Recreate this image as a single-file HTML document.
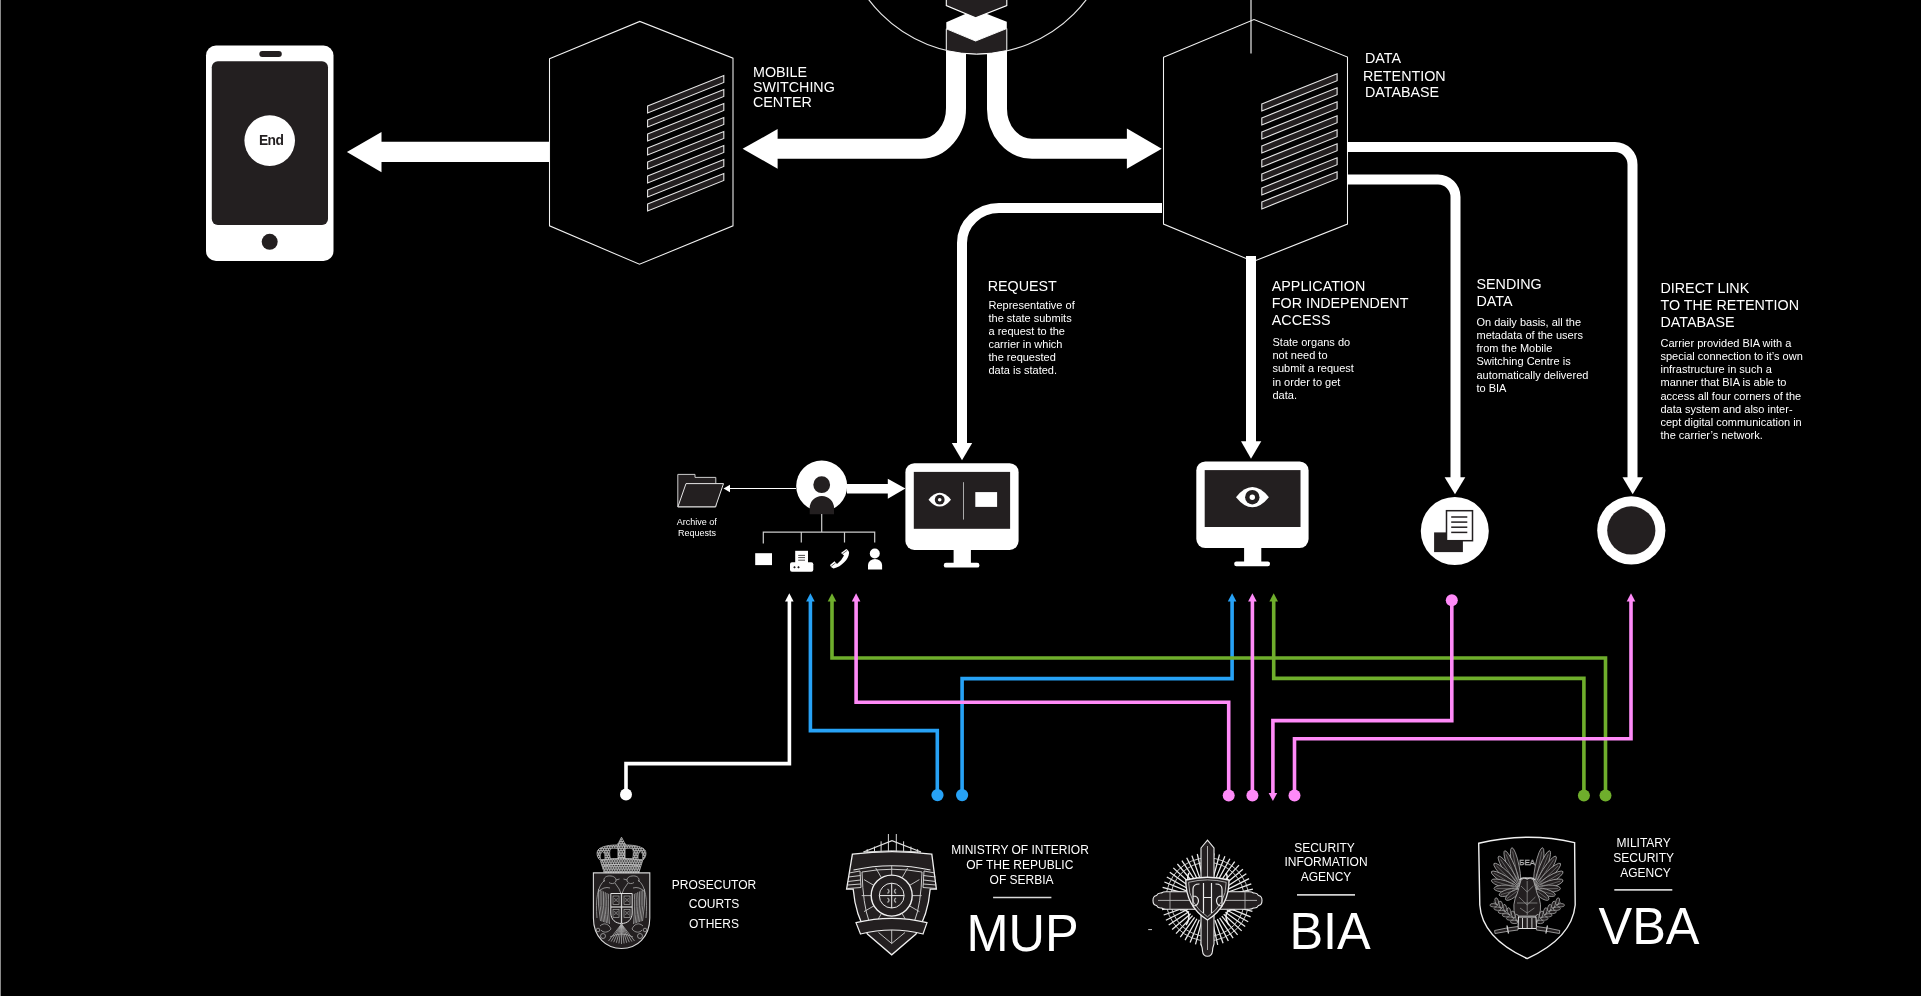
<!DOCTYPE html>
<html><head><meta charset="utf-8">
<style>
html,body{margin:0;padding:0;background:#000;width:1921px;height:996px;overflow:hidden}
svg{position:absolute;left:0;top:0;display:block;will-change:transform}
text{font-family:"Liberation Sans",sans-serif;fill:#fff}
</style></head>
<body>
<svg width="1921" height="996" viewBox="0 0 1921 996">
<rect x="0" y="0" width="1921" height="996" fill="#000"/>
<rect x="0" y="0" width="1" height="996" fill="#8a8a8a"/>

<!-- PHONE -->
<g id="phone">
<rect x="206" y="45.5" width="127.5" height="215.5" rx="10" fill="#fff"/>
<rect x="211.8" y="61.3" width="116.2" height="163.7" rx="6" fill="#231f20"/>
<rect x="259.3" y="51" width="22.5" height="6" rx="3" fill="#231f20"/>
<circle cx="269.7" cy="241.8" r="8" fill="#231f20"/>
<circle cx="269.7" cy="140.6" r="25.3" fill="#fff"/>
<text x="271.1" y="145.2" text-anchor="middle" style="fill:#231f20;font-weight:bold;font-size:13.8px;letter-spacing:-0.6px">End</text>
</g>
<polygon points="346.9,152 381.5,132 381.5,141.8 549,141.8 549,161.9 381.5,161.9 381.5,172.2" fill="#fff"/>

<!-- MSC HEX -->
<g id="hex1">
<polygon points="549.5,58.8 639.8,21.4 733,58.2 733,225.8 639.5,264.3 549.5,225.8" fill="none" stroke="#f2f2f2" stroke-width="1.05"/>
<g id="slats1" fill="#231f20" stroke="#e6e6e6" stroke-width="1.1"><polygon points="647.6,106.0 723.8,75.5 723.8,82.5 647.6,113.0"/><polygon points="647.6,120.0 723.8,89.5 723.8,96.5 647.6,127.0"/><polygon points="647.6,134.0 723.8,103.5 723.8,110.5 647.6,141.0"/><polygon points="647.6,148.0 723.8,117.5 723.8,124.5 647.6,155.0"/><polygon points="647.6,162.0 723.8,131.5 723.8,138.5 647.6,169.0"/><polygon points="647.6,176.0 723.8,145.5 723.8,152.5 647.6,183.0"/><polygon points="647.6,190.0 723.8,159.5 723.8,166.5 647.6,197.0"/><polygon points="647.6,204.0 723.8,173.5 723.8,180.5 647.6,211.0"/></g>
</g>
<text style="font-size:14.3px"><tspan x="753" y="77.3">MOBILE</tspan><tspan x="753" y="92">SWITCHING</tspan><tspan x="753" y="106.9">CENTER</tspan></text>

<!-- TOP CENTER -->
<circle cx="977.5" cy="-82" r="136" fill="none" stroke="#e6e6e6" stroke-width="1.2"/>
<path d="M956,50 V108 A35,40 0 0 1 921,148.7 H777" fill="none" stroke="#fff" stroke-width="20"/>
<path d="M997,50 V108 A35,40 0 0 0 1032,148.7 H1127" fill="none" stroke="#fff" stroke-width="20"/>
<polygon points="742.6,148.8 777.6,129.1 777.6,168.7" fill="#fff"/>
<polygon points="1161.7,148.8 1126.9,128.5 1126.9,168.7" fill="#fff"/>
<g id="server">
<polygon points="946.3,22.2 975.6,9.6 1006.8,21.7 1006.8,28.5 975.6,41.2 946.3,28.8" fill="#fff"/>
<polygon points="946.3,-5 1006.8,-5 1006.8,5.6 975.6,17.8 946.3,5.6" fill="#231f20" stroke="#fff" stroke-width="1.1"/>
<path d="M946.3,28.8 L975.6,41 L1006.8,28.5 V50.6 A136,136 0 0 1 946.3,50.6 Z" fill="#231f20" stroke="#fff" stroke-width="1"/>
</g>

<!-- RETENTION HEX -->
<g id="hex2">
<line x1="1251" y1="0" x2="1251" y2="53.4" stroke="#bbb" stroke-width="1.5"/>
<polygon points="1163.5,57.3 1254,19.6 1347.5,57 1347.5,224.1 1253.3,261.5 1163.5,224.1" fill="none" stroke="#f2f2f2" stroke-width="1.05"/>
<g id="slats2" fill="#231f20" stroke="#e6e6e6" stroke-width="1.1"><polygon points="1261.8,103.9 1337.1,73.7 1337.1,80.7 1261.8,110.9"/><polygon points="1261.8,117.9 1337.1,87.7 1337.1,94.7 1261.8,124.9"/><polygon points="1261.8,131.9 1337.1,101.7 1337.1,108.7 1261.8,138.9"/><polygon points="1261.8,145.9 1337.1,115.7 1337.1,122.7 1261.8,152.9"/><polygon points="1261.8,159.9 1337.1,129.7 1337.1,136.7 1261.8,166.9"/><polygon points="1261.8,173.9 1337.1,143.7 1337.1,150.7 1261.8,180.9"/><polygon points="1261.8,187.9 1337.1,157.7 1337.1,164.7 1261.8,194.9"/><polygon points="1261.8,201.9 1337.1,171.7 1337.1,178.7 1261.8,208.9"/></g>
</g>
<text style="font-size:14.3px"><tspan x="1365" y="63">DATA</tspan><tspan x="1363" y="80.9">RETENTION</tspan><tspan x="1365" y="96.8">DATABASE</tspan></text>

<!-- PIPES FROM RETENTION -->
<path d="M1347,147 H1615 A17.5,17.5 0 0 1 1632.5,164.5 V478" fill="none" stroke="#fff" stroke-width="10"/>
<polygon points="1622.5,477.2 1643,477.2 1632.7,494.3" fill="#fff"/>
<path d="M1347,179.5 H1438 A17.5,17.5 0 0 1 1455.5,197 V478" fill="none" stroke="#fff" stroke-width="10"/>
<polygon points="1444.6,477.2 1465.3,477.2 1455,494.3" fill="#fff"/>
<path d="M1162,208 H999 A37,35 0 0 0 962,243 V444" fill="none" stroke="#fff" stroke-width="10"/>
<polygon points="951.8,443 972.2,443 962,460.2" fill="#fff"/>
<path d="M1251,256 V442" fill="none" stroke="#fff" stroke-width="10"/>
<polygon points="1241,441.2 1261.3,441.2 1251,458.7" fill="#fff"/>

<!-- LABELS -->
<text style="font-size:14.3px"><tspan x="987.7" y="291.1">REQUEST</tspan></text>
<text style="font-size:11px"><tspan x="988.5" y="308.8">Representative of</tspan><tspan x="988.5" y="321.9">the state submits</tspan><tspan x="988.5" y="335">a request to the</tspan><tspan x="988.5" y="348.1">carrier in which</tspan><tspan x="988.5" y="361.2">the requested</tspan><tspan x="988.5" y="374.3">data is stated.</tspan></text>

<text style="font-size:14.3px"><tspan x="1271.8" y="291.1">APPLICATION</tspan><tspan x="1271.8" y="307.9">FOR INDEPENDENT</tspan><tspan x="1271.8" y="324.5">ACCESS</tspan></text>
<text style="font-size:11px"><tspan x="1272.5" y="345.9">State organs do</tspan><tspan x="1272.5" y="359.1">not need to</tspan><tspan x="1272.5" y="372.3">submit a request</tspan><tspan x="1272.5" y="385.5">in order to get</tspan><tspan x="1272.5" y="398.7">data.</tspan></text>

<text style="font-size:14.3px"><tspan x="1476.5" y="288.7">SENDING</tspan><tspan x="1476.5" y="305.8">DATA</tspan></text>
<text style="font-size:11px"><tspan x="1476.5" y="325.5">On daily basis, all the</tspan><tspan x="1476.5" y="338.8">metadata of the users</tspan><tspan x="1476.5" y="352.1">from the Mobile</tspan><tspan x="1476.5" y="365.4">Switching Centre is</tspan><tspan x="1476.5" y="378.7">automatically delivered</tspan><tspan x="1476.5" y="392">to BIA</tspan></text>

<text style="font-size:14.3px"><tspan x="1660.5" y="292.9">DIRECT LINK</tspan><tspan x="1660.5" y="309.7">TO THE RETENTION</tspan><tspan x="1660.5" y="326.9">DATABASE</tspan></text>
<text style="font-size:11px"><tspan x="1660.5" y="346.8">Carrier provided BIA with a</tspan><tspan x="1660.5" y="360">special connection to it’s own</tspan><tspan x="1660.5" y="373.2">infrastructure in such a</tspan><tspan x="1660.5" y="386.4">manner that BIA is able to</tspan><tspan x="1660.5" y="399.6">access all four corners of the</tspan><tspan x="1660.5" y="412.8">data system and also inter-</tspan><tspan x="1660.5" y="426">cept digital communication in</tspan><tspan x="1660.5" y="439.2">the carrier’s network.</tspan></text>

<!-- MONITORS -->
<g id="mon1">
<rect x="905.4" y="463.2" width="113.2" height="86.8" rx="9" fill="#fff"/>
<rect x="913.8" y="471.9" width="96.3" height="56.9" fill="#231f20"/>
<rect x="953.6" y="548" width="17.3" height="16" fill="#fff"/>
<rect x="943.8" y="562.8" width="35.6" height="4.8" rx="2.2" fill="#fff"/>
<path d="M928.5,499.7 Q939.7,486 951,499.7 Q939.7,513.4 928.5,499.7 Z" fill="#fff"/>
<circle cx="939.7" cy="499.7" r="4.9" fill="#231f20"/>
<circle cx="939.7" cy="499.7" r="1.8" fill="#fff"/>
<line x1="963.5" y1="482.2" x2="963.5" y2="519.6" stroke="#aaa" stroke-width="1"/>
<rect x="975.3" y="492.1" width="21.8" height="14.8" fill="#fff"/>
</g>
<g id="mon2">
<rect x="1196.3" y="461.4" width="112.3" height="86.7" rx="9" fill="#fff"/>
<rect x="1204.7" y="470.1" width="95.8" height="56.9" fill="#231f20"/>
<rect x="1244.1" y="546" width="17.2" height="17" fill="#fff"/>
<rect x="1234.2" y="561.4" width="35.8" height="4.8" rx="2.2" fill="#fff"/>
<path d="M1236,497.2 Q1252.3,477 1268.9,497.2 Q1252.3,517.4 1236,497.2 Z" fill="#fff"/>
<circle cx="1252.3" cy="497.2" r="7.2" fill="#231f20"/>
<circle cx="1252.3" cy="497.2" r="2.7" fill="#fff"/>
</g>

<!-- DOC CIRCLE -->
<circle cx="1454.8" cy="531" r="34" fill="#fff"/>
<rect x="1434.1" y="532.4" width="28.8" height="19.7" fill="#231f20"/>
<rect x="1446.5" y="510.7" width="26" height="30" fill="#fff" stroke="#231f20" stroke-width="1.5"/>
<g stroke="#231f20" stroke-width="1.5"><line x1="1451.2" y1="517" x2="1467.3" y2="517"/><line x1="1451.2" y1="522.1" x2="1467.3" y2="522.1"/><line x1="1451.2" y1="527.2" x2="1467.3" y2="527.2"/><line x1="1451.2" y1="532.4" x2="1467.3" y2="532.4"/></g>

<!-- RING -->
<circle cx="1631.3" cy="530.4" r="34.1" fill="#fff"/>
<circle cx="1631.3" cy="530.4" r="24.1" fill="#231f20"/>

<!-- PERSON + ARCHIVE -->
<circle cx="821.7" cy="486" r="25.5" fill="#fff"/>
<circle cx="821.7" cy="484.7" r="8.4" fill="#231f20"/>
<path d="M809.7,514.2 V508 A12.15,12 0 0 1 834,508 V514.2 Z" fill="#231f20"/>
<polygon points="847,483.9 887.8,483.9 887.8,478.7 905.4,488.5 887.8,498.8 887.8,493.4 847,493.4" fill="#fff"/>
<line x1="796" y1="488.5" x2="729" y2="488.5" stroke="#fff" stroke-width="1.2"/>
<polygon points="723.5,488.5 730,484.8 730,492.2" fill="#fff"/>
<path d="M677.8,506.8 V474.4 H695 V477.4 H715.8 V506.8 Z" fill="#231f20" stroke="#ccc" stroke-width="1"/>
<polygon points="686,483.6 723.5,483.6 715.5,506.8 677.9,506.8" fill="#231f20" stroke="#e6e6e6" stroke-width="1"/>
<text style="font-size:9px" text-anchor="middle"><tspan x="696.8" y="524.8">Archive of</tspan><tspan x="697" y="535.9">Requests</tspan></text>
<g stroke="#ccc" stroke-width="1.2" fill="none">
<path d="M821.7,514 V532.1"/>
<path d="M763.3,543.5 V532.1 H874.7 V542.5"/>
<path d="M801.3,532.1 V542.5"/>
<path d="M844.5,532.1 V542.5"/>
</g>
<rect x="755.2" y="553.2" width="16.8" height="11.9" fill="#fff"/>
<g id="fax">
<rect x="795.2" y="550.8" width="12.8" height="13" fill="#fff"/>
<g stroke="#231f20" stroke-width="0.8"><line x1="798.2" y1="555.4" x2="805" y2="555.4"/><line x1="798.2" y1="557.6" x2="805" y2="557.6"/><line x1="798.2" y1="560.2" x2="805" y2="560.2"/></g>
<rect x="790" y="562.3" width="23.3" height="9.4" rx="2" fill="#fff"/>
<g fill="#231f20"><polygon points="794.5,566 795.8,567.2 794.5,568.4 793.2,567.2"/><polygon points="798.5,566 799.8,567.2 798.5,568.4 797.2,567.2"/></g>
</g>
<path d="M830,565 L834.5,561.2 L837,563.9 Q841.5,561 844,555.6 L841,552.9 L846.3,549 Q849.6,551 849,553.5 C848.5,559 842,566.5 833.5,568.6 Q830.8,568 830,565 Z" fill="#fff"/><g stroke="#231f20" stroke-width="0.7"><line x1="842.3" y1="554" x2="847.3" y2="550.3"/><line x1="831.2" y1="566.3" x2="835.8" y2="562.7"/></g>
<circle cx="874.8" cy="553.5" r="5" fill="#fff"/>
<path d="M868,569.6 V565 A7.05,6 0 0 1 882.1,565 V569.6 Z" fill="#fff"/>

<!-- COLORED LINES -->
<g fill="none" stroke-width="3.6" stroke-linejoin="miter">
<path stroke="#fff" d="M626,794.5 V763.6 H789.4 V600"/>
<path stroke="#27a2f6" d="M810.4,600 V730.6 H937.3 V795"/>
<path stroke="#27a2f6" d="M962.1,795 V678.6 H1232.1 V600"/>
<path stroke="#6fae2c" d="M832,600 V658 H1605.5 V795"/>
<path stroke="#6fae2c" d="M1273.7,600 V678.4 H1583.9 V795"/>
<path stroke="#ff8af8" d="M856.1,600 V702.2 H1228.7 V795"/>
<path stroke="#ff8af8" d="M1252.4,600 V795"/>
<path stroke="#ff8af8" d="M1451.8,600 V720.6 H1272.9 V794"/>
<path stroke="#ff8af8" d="M1631,600 V738.8 H1294.5 V795"/>
</g>
<g>
<circle cx="626" cy="794.5" r="6" fill="#fff"/>
<polygon points="785,601.5 793.6,601.5 789.3,593.3" fill="#fff"/>
<circle cx="937.5" cy="795.1" r="6.1" fill="#27a2f6"/>
<circle cx="962.1" cy="795.1" r="6.1" fill="#27a2f6"/>
<polygon points="806.1,601.5 814.7,601.5 810.4,593.3" fill="#27a2f6"/>
<polygon points="1227.8,601.5 1236.4,601.5 1232.1,593.3" fill="#27a2f6"/>
<polygon points="827.7,601.5 836.3,601.5 832,593.3" fill="#6fae2c"/>
<polygon points="1269.4,601.5 1278,601.5 1273.7,593.3" fill="#6fae2c"/>
<circle cx="1583.9" cy="795.6" r="6" fill="#6fae2c"/>
<circle cx="1605.5" cy="795.6" r="6" fill="#6fae2c"/>
<polygon points="851.8,601.5 860.4,601.5 856.1,593.3" fill="#ff8af8"/>
<polygon points="1248.1,601.5 1256.7,601.5 1252.4,593.3" fill="#ff8af8"/>
<polygon points="1626.7,601.5 1635.3,601.5 1631,593.3" fill="#ff8af8"/>
<polygon points="1268.6,793 1277.2,793 1272.9,801" fill="#ff8af8"/>
<circle cx="1228.7" cy="795.5" r="6" fill="#ff8af8"/>
<circle cx="1252.4" cy="795.5" r="6" fill="#ff8af8"/>
<circle cx="1294.5" cy="795.5" r="6" fill="#ff8af8"/>
<circle cx="1451.8" cy="600.2" r="6" fill="#ff8af8"/>
</g>

<!-- BOTTOM TEXTS -->
<text style="font-size:12px" text-anchor="middle"><tspan x="714" y="888.6">PROSECUTOR</tspan><tspan x="714" y="908">COURTS</tspan><tspan x="714" y="927.5">OTHERS</tspan></text>

<text style="font-size:12px" text-anchor="middle"><tspan x="1020.1" y="853.9">MINISTRY OF INTERIOR</tspan><tspan x="1019.8" y="868.7">OF THE REPUBLIC</tspan><tspan x="1021.6" y="883.5">OF SERBIA</tspan></text>
<line x1="993.1" y1="897.5" x2="1051.4" y2="897.5" stroke="#d8d8d8" stroke-width="1.7"/>
<text transform="translate(1022.6,950.9) scale(0.96,1)" text-anchor="middle" style="font-size:52.6px">MUP</text>

<text style="font-size:12px" text-anchor="middle"><tspan x="1324.5" y="851.6">SECURITY</tspan><tspan x="1326" y="866">INFORMATION</tspan><tspan x="1326" y="880.5">AGENCY</tspan></text>
<line x1="1297" y1="894.8" x2="1355" y2="894.8" stroke="#d0d0d0" stroke-width="1.8"/>
<text transform="translate(1330.1,948.7) scale(0.96,1)" text-anchor="middle" style="font-size:52.6px">BIA</text>

<text style="font-size:12px" text-anchor="middle"><tspan x="1643.7" y="847.1">MILITARY</tspan><tspan x="1643.7" y="862">SECURITY</tspan><tspan x="1645.5" y="876.8">AGENCY</tspan></text>
<line x1="1614.3" y1="889.9" x2="1672.3" y2="889.9" stroke="#d0d0d0" stroke-width="1.8"/>
<text transform="translate(1649,943.8) scale(0.96,1)" text-anchor="middle" style="font-size:52.6px">VBA</text>

<!-- LOGOS -->
<g id="logo1"><defs><pattern id="crowndots" width="2" height="2" patternUnits="userSpaceOnUse"><rect width="2" height="2" fill="#b4b4b4"/><circle cx="1" cy="1" r="0.7" fill="#111"/></pattern></defs><path d="M604.2,872.8 L600.4,860.5 C596.5,857 596,851.5 599,849 C603,846 610,845 617,845 L618.6,842.8 L621.5,837.2 L624.4,842.8 L626,845 C633,845 640,846 644,849 C647,851.5 646.5,857 642.6,860.5 L638.8,872.8 Z" fill="#a6a6a6" stroke="#c8c8c8" stroke-width="0.8"/><defs><clipPath id="crownclip"><path d="M604.2,872.8 L600.4,860.5 C596.5,857 596,851.5 599,849 C603,846 610,845 617,845 L618.6,842.8 L621.5,837.2 L624.4,842.8 L626,845 C633,845 640,846 644,849 C647,851.5 646.5,857 642.6,860.5 L638.8,872.8 Z"/></clipPath></defs><g clip-path="url(#crownclip)" fill="#1c1c1c"><circle cx="596.00" cy="838.00" r="0.72"/><circle cx="598.50" cy="838.00" r="0.72"/><circle cx="601.00" cy="838.00" r="0.72"/><circle cx="603.50" cy="838.00" r="0.72"/><circle cx="606.00" cy="838.00" r="0.72"/><circle cx="608.50" cy="838.00" r="0.72"/><circle cx="611.00" cy="838.00" r="0.72"/><circle cx="613.50" cy="838.00" r="0.72"/><circle cx="616.00" cy="838.00" r="0.72"/><circle cx="618.50" cy="838.00" r="0.72"/><circle cx="621.00" cy="838.00" r="0.72"/><circle cx="623.50" cy="838.00" r="0.72"/><circle cx="626.00" cy="838.00" r="0.72"/><circle cx="628.50" cy="838.00" r="0.72"/><circle cx="631.00" cy="838.00" r="0.72"/><circle cx="633.50" cy="838.00" r="0.72"/><circle cx="636.00" cy="838.00" r="0.72"/><circle cx="638.50" cy="838.00" r="0.72"/><circle cx="641.00" cy="838.00" r="0.72"/><circle cx="643.50" cy="838.00" r="0.72"/><circle cx="646.00" cy="838.00" r="0.72"/><circle cx="597.25" cy="840.30" r="0.72"/><circle cx="599.75" cy="840.30" r="0.72"/><circle cx="602.25" cy="840.30" r="0.72"/><circle cx="604.75" cy="840.30" r="0.72"/><circle cx="607.25" cy="840.30" r="0.72"/><circle cx="609.75" cy="840.30" r="0.72"/><circle cx="612.25" cy="840.30" r="0.72"/><circle cx="614.75" cy="840.30" r="0.72"/><circle cx="617.25" cy="840.30" r="0.72"/><circle cx="619.75" cy="840.30" r="0.72"/><circle cx="622.25" cy="840.30" r="0.72"/><circle cx="624.75" cy="840.30" r="0.72"/><circle cx="627.25" cy="840.30" r="0.72"/><circle cx="629.75" cy="840.30" r="0.72"/><circle cx="632.25" cy="840.30" r="0.72"/><circle cx="634.75" cy="840.30" r="0.72"/><circle cx="637.25" cy="840.30" r="0.72"/><circle cx="639.75" cy="840.30" r="0.72"/><circle cx="642.25" cy="840.30" r="0.72"/><circle cx="644.75" cy="840.30" r="0.72"/><circle cx="647.25" cy="840.30" r="0.72"/><circle cx="596.00" cy="842.60" r="0.72"/><circle cx="598.50" cy="842.60" r="0.72"/><circle cx="601.00" cy="842.60" r="0.72"/><circle cx="603.50" cy="842.60" r="0.72"/><circle cx="606.00" cy="842.60" r="0.72"/><circle cx="608.50" cy="842.60" r="0.72"/><circle cx="611.00" cy="842.60" r="0.72"/><circle cx="613.50" cy="842.60" r="0.72"/><circle cx="616.00" cy="842.60" r="0.72"/><circle cx="618.50" cy="842.60" r="0.72"/><circle cx="621.00" cy="842.60" r="0.72"/><circle cx="623.50" cy="842.60" r="0.72"/><circle cx="626.00" cy="842.60" r="0.72"/><circle cx="628.50" cy="842.60" r="0.72"/><circle cx="631.00" cy="842.60" r="0.72"/><circle cx="633.50" cy="842.60" r="0.72"/><circle cx="636.00" cy="842.60" r="0.72"/><circle cx="638.50" cy="842.60" r="0.72"/><circle cx="641.00" cy="842.60" r="0.72"/><circle cx="643.50" cy="842.60" r="0.72"/><circle cx="646.00" cy="842.60" r="0.72"/><circle cx="597.25" cy="844.90" r="0.72"/><circle cx="599.75" cy="844.90" r="0.72"/><circle cx="602.25" cy="844.90" r="0.72"/><circle cx="604.75" cy="844.90" r="0.72"/><circle cx="607.25" cy="844.90" r="0.72"/><circle cx="609.75" cy="844.90" r="0.72"/><circle cx="612.25" cy="844.90" r="0.72"/><circle cx="614.75" cy="844.90" r="0.72"/><circle cx="617.25" cy="844.90" r="0.72"/><circle cx="619.75" cy="844.90" r="0.72"/><circle cx="622.25" cy="844.90" r="0.72"/><circle cx="624.75" cy="844.90" r="0.72"/><circle cx="627.25" cy="844.90" r="0.72"/><circle cx="629.75" cy="844.90" r="0.72"/><circle cx="632.25" cy="844.90" r="0.72"/><circle cx="634.75" cy="844.90" r="0.72"/><circle cx="637.25" cy="844.90" r="0.72"/><circle cx="639.75" cy="844.90" r="0.72"/><circle cx="642.25" cy="844.90" r="0.72"/><circle cx="644.75" cy="844.90" r="0.72"/><circle cx="647.25" cy="844.90" r="0.72"/><circle cx="596.00" cy="847.20" r="0.72"/><circle cx="598.50" cy="847.20" r="0.72"/><circle cx="601.00" cy="847.20" r="0.72"/><circle cx="603.50" cy="847.20" r="0.72"/><circle cx="606.00" cy="847.20" r="0.72"/><circle cx="608.50" cy="847.20" r="0.72"/><circle cx="611.00" cy="847.20" r="0.72"/><circle cx="613.50" cy="847.20" r="0.72"/><circle cx="616.00" cy="847.20" r="0.72"/><circle cx="618.50" cy="847.20" r="0.72"/><circle cx="621.00" cy="847.20" r="0.72"/><circle cx="623.50" cy="847.20" r="0.72"/><circle cx="626.00" cy="847.20" r="0.72"/><circle cx="628.50" cy="847.20" r="0.72"/><circle cx="631.00" cy="847.20" r="0.72"/><circle cx="633.50" cy="847.20" r="0.72"/><circle cx="636.00" cy="847.20" r="0.72"/><circle cx="638.50" cy="847.20" r="0.72"/><circle cx="641.00" cy="847.20" r="0.72"/><circle cx="643.50" cy="847.20" r="0.72"/><circle cx="646.00" cy="847.20" r="0.72"/><circle cx="597.25" cy="849.50" r="0.72"/><circle cx="599.75" cy="849.50" r="0.72"/><circle cx="602.25" cy="849.50" r="0.72"/><circle cx="604.75" cy="849.50" r="0.72"/><circle cx="607.25" cy="849.50" r="0.72"/><circle cx="609.75" cy="849.50" r="0.72"/><circle cx="612.25" cy="849.50" r="0.72"/><circle cx="614.75" cy="849.50" r="0.72"/><circle cx="617.25" cy="849.50" r="0.72"/><circle cx="619.75" cy="849.50" r="0.72"/><circle cx="622.25" cy="849.50" r="0.72"/><circle cx="624.75" cy="849.50" r="0.72"/><circle cx="627.25" cy="849.50" r="0.72"/><circle cx="629.75" cy="849.50" r="0.72"/><circle cx="632.25" cy="849.50" r="0.72"/><circle cx="634.75" cy="849.50" r="0.72"/><circle cx="637.25" cy="849.50" r="0.72"/><circle cx="639.75" cy="849.50" r="0.72"/><circle cx="642.25" cy="849.50" r="0.72"/><circle cx="644.75" cy="849.50" r="0.72"/><circle cx="647.25" cy="849.50" r="0.72"/><circle cx="596.00" cy="851.80" r="0.72"/><circle cx="598.50" cy="851.80" r="0.72"/><circle cx="601.00" cy="851.80" r="0.72"/><circle cx="603.50" cy="851.80" r="0.72"/><circle cx="606.00" cy="851.80" r="0.72"/><circle cx="608.50" cy="851.80" r="0.72"/><circle cx="611.00" cy="851.80" r="0.72"/><circle cx="613.50" cy="851.80" r="0.72"/><circle cx="616.00" cy="851.80" r="0.72"/><circle cx="618.50" cy="851.80" r="0.72"/><circle cx="621.00" cy="851.80" r="0.72"/><circle cx="623.50" cy="851.80" r="0.72"/><circle cx="626.00" cy="851.80" r="0.72"/><circle cx="628.50" cy="851.80" r="0.72"/><circle cx="631.00" cy="851.80" r="0.72"/><circle cx="633.50" cy="851.80" r="0.72"/><circle cx="636.00" cy="851.80" r="0.72"/><circle cx="638.50" cy="851.80" r="0.72"/><circle cx="641.00" cy="851.80" r="0.72"/><circle cx="643.50" cy="851.80" r="0.72"/><circle cx="646.00" cy="851.80" r="0.72"/><circle cx="597.25" cy="854.10" r="0.72"/><circle cx="599.75" cy="854.10" r="0.72"/><circle cx="602.25" cy="854.10" r="0.72"/><circle cx="604.75" cy="854.10" r="0.72"/><circle cx="607.25" cy="854.10" r="0.72"/><circle cx="609.75" cy="854.10" r="0.72"/><circle cx="612.25" cy="854.10" r="0.72"/><circle cx="614.75" cy="854.10" r="0.72"/><circle cx="617.25" cy="854.10" r="0.72"/><circle cx="619.75" cy="854.10" r="0.72"/><circle cx="622.25" cy="854.10" r="0.72"/><circle cx="624.75" cy="854.10" r="0.72"/><circle cx="627.25" cy="854.10" r="0.72"/><circle cx="629.75" cy="854.10" r="0.72"/><circle cx="632.25" cy="854.10" r="0.72"/><circle cx="634.75" cy="854.10" r="0.72"/><circle cx="637.25" cy="854.10" r="0.72"/><circle cx="639.75" cy="854.10" r="0.72"/><circle cx="642.25" cy="854.10" r="0.72"/><circle cx="644.75" cy="854.10" r="0.72"/><circle cx="647.25" cy="854.10" r="0.72"/><circle cx="596.00" cy="856.40" r="0.72"/><circle cx="598.50" cy="856.40" r="0.72"/><circle cx="601.00" cy="856.40" r="0.72"/><circle cx="603.50" cy="856.40" r="0.72"/><circle cx="606.00" cy="856.40" r="0.72"/><circle cx="608.50" cy="856.40" r="0.72"/><circle cx="611.00" cy="856.40" r="0.72"/><circle cx="613.50" cy="856.40" r="0.72"/><circle cx="616.00" cy="856.40" r="0.72"/><circle cx="618.50" cy="856.40" r="0.72"/><circle cx="621.00" cy="856.40" r="0.72"/><circle cx="623.50" cy="856.40" r="0.72"/><circle cx="626.00" cy="856.40" r="0.72"/><circle cx="628.50" cy="856.40" r="0.72"/><circle cx="631.00" cy="856.40" r="0.72"/><circle cx="633.50" cy="856.40" r="0.72"/><circle cx="636.00" cy="856.40" r="0.72"/><circle cx="638.50" cy="856.40" r="0.72"/><circle cx="641.00" cy="856.40" r="0.72"/><circle cx="643.50" cy="856.40" r="0.72"/><circle cx="646.00" cy="856.40" r="0.72"/><circle cx="597.25" cy="858.70" r="0.72"/><circle cx="599.75" cy="858.70" r="0.72"/><circle cx="602.25" cy="858.70" r="0.72"/><circle cx="604.75" cy="858.70" r="0.72"/><circle cx="607.25" cy="858.70" r="0.72"/><circle cx="609.75" cy="858.70" r="0.72"/><circle cx="612.25" cy="858.70" r="0.72"/><circle cx="614.75" cy="858.70" r="0.72"/><circle cx="617.25" cy="858.70" r="0.72"/><circle cx="619.75" cy="858.70" r="0.72"/><circle cx="622.25" cy="858.70" r="0.72"/><circle cx="624.75" cy="858.70" r="0.72"/><circle cx="627.25" cy="858.70" r="0.72"/><circle cx="629.75" cy="858.70" r="0.72"/><circle cx="632.25" cy="858.70" r="0.72"/><circle cx="634.75" cy="858.70" r="0.72"/><circle cx="637.25" cy="858.70" r="0.72"/><circle cx="639.75" cy="858.70" r="0.72"/><circle cx="642.25" cy="858.70" r="0.72"/><circle cx="644.75" cy="858.70" r="0.72"/><circle cx="647.25" cy="858.70" r="0.72"/><circle cx="596.00" cy="861.00" r="0.72"/><circle cx="598.50" cy="861.00" r="0.72"/><circle cx="601.00" cy="861.00" r="0.72"/><circle cx="603.50" cy="861.00" r="0.72"/><circle cx="606.00" cy="861.00" r="0.72"/><circle cx="608.50" cy="861.00" r="0.72"/><circle cx="611.00" cy="861.00" r="0.72"/><circle cx="613.50" cy="861.00" r="0.72"/><circle cx="616.00" cy="861.00" r="0.72"/><circle cx="618.50" cy="861.00" r="0.72"/><circle cx="621.00" cy="861.00" r="0.72"/><circle cx="623.50" cy="861.00" r="0.72"/><circle cx="626.00" cy="861.00" r="0.72"/><circle cx="628.50" cy="861.00" r="0.72"/><circle cx="631.00" cy="861.00" r="0.72"/><circle cx="633.50" cy="861.00" r="0.72"/><circle cx="636.00" cy="861.00" r="0.72"/><circle cx="638.50" cy="861.00" r="0.72"/><circle cx="641.00" cy="861.00" r="0.72"/><circle cx="643.50" cy="861.00" r="0.72"/><circle cx="646.00" cy="861.00" r="0.72"/><circle cx="597.25" cy="863.30" r="0.72"/><circle cx="599.75" cy="863.30" r="0.72"/><circle cx="602.25" cy="863.30" r="0.72"/><circle cx="604.75" cy="863.30" r="0.72"/><circle cx="607.25" cy="863.30" r="0.72"/><circle cx="609.75" cy="863.30" r="0.72"/><circle cx="612.25" cy="863.30" r="0.72"/><circle cx="614.75" cy="863.30" r="0.72"/><circle cx="617.25" cy="863.30" r="0.72"/><circle cx="619.75" cy="863.30" r="0.72"/><circle cx="622.25" cy="863.30" r="0.72"/><circle cx="624.75" cy="863.30" r="0.72"/><circle cx="627.25" cy="863.30" r="0.72"/><circle cx="629.75" cy="863.30" r="0.72"/><circle cx="632.25" cy="863.30" r="0.72"/><circle cx="634.75" cy="863.30" r="0.72"/><circle cx="637.25" cy="863.30" r="0.72"/><circle cx="639.75" cy="863.30" r="0.72"/><circle cx="642.25" cy="863.30" r="0.72"/><circle cx="644.75" cy="863.30" r="0.72"/><circle cx="647.25" cy="863.30" r="0.72"/><circle cx="596.00" cy="865.60" r="0.72"/><circle cx="598.50" cy="865.60" r="0.72"/><circle cx="601.00" cy="865.60" r="0.72"/><circle cx="603.50" cy="865.60" r="0.72"/><circle cx="606.00" cy="865.60" r="0.72"/><circle cx="608.50" cy="865.60" r="0.72"/><circle cx="611.00" cy="865.60" r="0.72"/><circle cx="613.50" cy="865.60" r="0.72"/><circle cx="616.00" cy="865.60" r="0.72"/><circle cx="618.50" cy="865.60" r="0.72"/><circle cx="621.00" cy="865.60" r="0.72"/><circle cx="623.50" cy="865.60" r="0.72"/><circle cx="626.00" cy="865.60" r="0.72"/><circle cx="628.50" cy="865.60" r="0.72"/><circle cx="631.00" cy="865.60" r="0.72"/><circle cx="633.50" cy="865.60" r="0.72"/><circle cx="636.00" cy="865.60" r="0.72"/><circle cx="638.50" cy="865.60" r="0.72"/><circle cx="641.00" cy="865.60" r="0.72"/><circle cx="643.50" cy="865.60" r="0.72"/><circle cx="646.00" cy="865.60" r="0.72"/><circle cx="597.25" cy="867.90" r="0.72"/><circle cx="599.75" cy="867.90" r="0.72"/><circle cx="602.25" cy="867.90" r="0.72"/><circle cx="604.75" cy="867.90" r="0.72"/><circle cx="607.25" cy="867.90" r="0.72"/><circle cx="609.75" cy="867.90" r="0.72"/><circle cx="612.25" cy="867.90" r="0.72"/><circle cx="614.75" cy="867.90" r="0.72"/><circle cx="617.25" cy="867.90" r="0.72"/><circle cx="619.75" cy="867.90" r="0.72"/><circle cx="622.25" cy="867.90" r="0.72"/><circle cx="624.75" cy="867.90" r="0.72"/><circle cx="627.25" cy="867.90" r="0.72"/><circle cx="629.75" cy="867.90" r="0.72"/><circle cx="632.25" cy="867.90" r="0.72"/><circle cx="634.75" cy="867.90" r="0.72"/><circle cx="637.25" cy="867.90" r="0.72"/><circle cx="639.75" cy="867.90" r="0.72"/><circle cx="642.25" cy="867.90" r="0.72"/><circle cx="644.75" cy="867.90" r="0.72"/><circle cx="647.25" cy="867.90" r="0.72"/><circle cx="596.00" cy="870.20" r="0.72"/><circle cx="598.50" cy="870.20" r="0.72"/><circle cx="601.00" cy="870.20" r="0.72"/><circle cx="603.50" cy="870.20" r="0.72"/><circle cx="606.00" cy="870.20" r="0.72"/><circle cx="608.50" cy="870.20" r="0.72"/><circle cx="611.00" cy="870.20" r="0.72"/><circle cx="613.50" cy="870.20" r="0.72"/><circle cx="616.00" cy="870.20" r="0.72"/><circle cx="618.50" cy="870.20" r="0.72"/><circle cx="621.00" cy="870.20" r="0.72"/><circle cx="623.50" cy="870.20" r="0.72"/><circle cx="626.00" cy="870.20" r="0.72"/><circle cx="628.50" cy="870.20" r="0.72"/><circle cx="631.00" cy="870.20" r="0.72"/><circle cx="633.50" cy="870.20" r="0.72"/><circle cx="636.00" cy="870.20" r="0.72"/><circle cx="638.50" cy="870.20" r="0.72"/><circle cx="641.00" cy="870.20" r="0.72"/><circle cx="643.50" cy="870.20" r="0.72"/><circle cx="646.00" cy="870.20" r="0.72"/><circle cx="597.25" cy="872.50" r="0.72"/><circle cx="599.75" cy="872.50" r="0.72"/><circle cx="602.25" cy="872.50" r="0.72"/><circle cx="604.75" cy="872.50" r="0.72"/><circle cx="607.25" cy="872.50" r="0.72"/><circle cx="609.75" cy="872.50" r="0.72"/><circle cx="612.25" cy="872.50" r="0.72"/><circle cx="614.75" cy="872.50" r="0.72"/><circle cx="617.25" cy="872.50" r="0.72"/><circle cx="619.75" cy="872.50" r="0.72"/><circle cx="622.25" cy="872.50" r="0.72"/><circle cx="624.75" cy="872.50" r="0.72"/><circle cx="627.25" cy="872.50" r="0.72"/><circle cx="629.75" cy="872.50" r="0.72"/><circle cx="632.25" cy="872.50" r="0.72"/><circle cx="634.75" cy="872.50" r="0.72"/><circle cx="637.25" cy="872.50" r="0.72"/><circle cx="639.75" cy="872.50" r="0.72"/><circle cx="642.25" cy="872.50" r="0.72"/><circle cx="644.75" cy="872.50" r="0.72"/><circle cx="647.25" cy="872.50" r="0.72"/></g><path d="M600.6,859.5 C599.8,856 600.3,852.6 602.6,851.8 C604.8,852.6 605.2,856 604.8,859.5 Z" fill="#000" stroke="#bdbdbd" stroke-width="0.6"/><path d="M610.4,858.8 C609.6,854 609,850.2 611.2,848.6 C614,848.1 616.6,848.4 618,848.8 L618,858.8 Z" fill="#000" stroke="#bdbdbd" stroke-width="0.6"/><path d="M632.6,858.8 C633.4,854 634,850.2 631.8,848.6 C629,848.1 626.4,848.4 625,848.8 L625,858.8 Z" fill="#000" stroke="#bdbdbd" stroke-width="0.6"/><path d="M642.4,859.5 C643.2,856 642.7,852.6 640.4,851.8 C638.2,852.6 637.8,856 638.2,859.5 Z" fill="#000" stroke="#bdbdbd" stroke-width="0.6"/><g fill="none" stroke="#d0d0d0" stroke-width="0.6"><path d="M618.2,843.5 V859 M624.8,843.5 V859 M601,860.5 Q621.5,856 642,860.5 M603,866 Q621.5,862.5 640,866"/></g><path d="M593.4,872.9 H649.8 V918 C649.8,937 637,948.5 621.6,948.5 C606,948.5 593.4,937 593.4,918 Z" fill="#231f20" stroke="#d8d8d8" stroke-width="1.1"/><g fill="none" stroke="#b0b0b0" stroke-width="0.75"><path d="M604,882 C603,877 607,875.5 611,876 C615,876.5 617,879 615.5,882 C614,884 611,884 609,882.5 M616,880 L619.5,879"/><path d="M639,882 C640,877 636,875.5 632,876 C628,876.5 626,879 627.5,882 C629,884 632,884 634,882.5 M627,880 L623.5,879"/><path d="M615,883 Q620,889 621.5,895 M628,883 Q623,889 621.5,895"/><path d="M605,880 C597,886 595.5,900 597,918 M638,880 C646,886 647.5,900 646,918"/><path d="M598.5,889.0 Q597.5,905.0 600.5,921.0"/><path d="M644.5,889.0 Q645.5,905.0 642.5,921.0"/><path d="M600.2,889.8 Q599.2,905.0 602.0,921.5"/><path d="M642.8,889.8 Q643.8,905.0 641.0,921.5"/><path d="M601.9,890.6 Q600.9,905.0 603.5,922.0"/><path d="M641.1,890.6 Q642.1,905.0 639.5,922.0"/><path d="M603.6,891.4 Q602.6,905.0 605.0,922.5"/><path d="M639.4,891.4 Q640.4,905.0 638.0,922.5"/><path d="M605.3,892.2 Q604.3,905.0 606.5,923.0"/><path d="M637.7,892.2 Q638.7,905.0 636.5,923.0"/><path d="M607.0,893.0 Q606.0,905.0 608.0,923.5"/><path d="M636.0,893.0 Q637.0,905.0 635.0,923.5"/><path d="M608.7,893.8 Q607.7,905.0 609.5,924.0"/><path d="M634.3,893.8 Q635.3,905.0 633.5,924.0"/><path d="M598,892 Q604,886 610,888 M645,892 Q639,886 633,888"/><path d="M621.5,924 L608.5,941.0"/><path d="M621.5,924 L611.1,941.6"/><path d="M621.5,924 L613.7,942.2"/><path d="M621.5,924 L616.3,942.8"/><path d="M621.5,924 L618.9,943.4"/><path d="M621.5,924 L621.5,944.0"/><path d="M621.5,924 L624.1,943.4"/><path d="M621.5,924 L626.7,942.8"/><path d="M621.5,924 L629.3,942.2"/><path d="M621.5,924 L631.9,941.6"/><path d="M621.5,924 L634.5,941.0"/><path d="M610,937 Q621.5,931 633,937"/><path d="M600,926 C604,922 609,924 611,929 C608,933 603,933 601,930 M643,926 C639,922 634,924 632,929 C635,933 640,933 642,930"/><circle cx="603" cy="936" r="2.5"/><circle cx="640" cy="936" r="2.5"/><circle cx="598" cy="930" r="1.8"/><circle cx="645" cy="930" r="1.8"/></g><path d="M610.8,893.5 H632.2 V913 C632.2,919.5 627.5,923.5 621.5,923.5 C615.5,923.5 610.8,919.5 610.8,913 Z" fill="#231f20" stroke="#e0e0e0" stroke-width="1"/><g stroke="#cfcfcf" stroke-width="1.3"><line x1="621.5" y1="894" x2="621.5" y2="923"/><line x1="611" y1="907" x2="632" y2="907"/></g><g fill="none" stroke="#a8a8a8" stroke-width="0.7"><rect x="613" y="896" width="6" height="8.5"/><rect x="624" y="896" width="6" height="8.5"/><rect x="613" y="909.5" width="6" height="8"/><rect x="624" y="909.5" width="6" height="8"/><path d="M614.5,898 q2,2 0,4 M617.5,898 q-2,2 0,4 M625.5,898 q2,2 0,4 M628.5,898 q-2,2 0,4 M614.5,911 q2,2 0,4 M617.5,911 q-2,2 0,4 M625.5,911 q2,2 0,4 M628.5,911 q-2,2 0,4"/></g></g>
<g id="logo2"><g stroke="#d8d8d8" stroke-width="1"><line x1="888.4" y1="834.0" x2="888.4" y2="853"/><line x1="896.3" y1="834.0" x2="896.3" y2="853"/><line x1="881.1" y1="841.3" x2="881.1" y2="853"/><line x1="903.6" y1="841.3" x2="903.6" y2="853"/><line x1="874.5" y1="846.6" x2="874.5" y2="853"/><line x1="910.9" y1="846.6" x2="910.9" y2="853"/><line x1="867.2" y1="849.2" x2="867.2" y2="853"/><line x1="917.6" y1="849.2" x2="917.6" y2="853"/></g><path d="M863.5,852 L892,840.6 L921,852" fill="none" stroke="#e0e0e0" stroke-width="1.3"/><path d="M863.5,852 Q892,849.5 921,852" fill="none" stroke="#ccc" stroke-width="1"/><path d="M852.4,854.2 Q892,849 931.8,854.2 L936.4,889.2 L930.2,889.2 Q928,915 916,934 L891.7,954.8 L867.4,934 Q855.4,915 853.2,889.2 L846.6,889.2 Z" fill="#231f20" stroke="#f0f0f0" stroke-width="1.3"/><path d="M853.5,870 Q892,861.5 930.5,870" fill="none" stroke="#e6e6e6" stroke-width="1.1"/><g fill="none" stroke="#ddd" stroke-width="0.9"><path d="M849,873 L860,871 L861,887.5 L847.5,888.5 M848.5,877 L860.5,875.5 M848,881.5 L860.5,880 M847.7,885 L860.8,884"/><path d="M935,873 L924,871 L923,887.5 L936.5,888.5 M935.5,877 L923.5,875.5 M936,881.5 L923.5,880 M936.3,885 L923.2,884"/><path d="M862,872 Q892,866.5 922,872 Q921,905 914.5,921 M862,872 Q863,905 869,921"/></g><g stroke="#cfcfcf" stroke-width="0.9"><line x1="891.7" y1="875.1" x2="891.7" y2="865.6"/><line x1="902.0" y1="877.8" x2="907.7" y2="867.9"/><line x1="909.5" y1="885.4" x2="919.4" y2="879.6"/><line x1="912.2" y1="895.6" x2="921.7" y2="895.6"/><line x1="909.5" y1="905.9" x2="919.4" y2="911.6"/><line x1="902.0" y1="913.4" x2="907.7" y2="923.3"/><line x1="881.5" y1="913.4" x2="875.7" y2="923.3"/><line x1="873.9" y1="905.9" x2="864.0" y2="911.6"/><line x1="871.2" y1="895.6" x2="861.7" y2="895.6"/><line x1="873.9" y1="885.4" x2="864.0" y2="879.6"/><line x1="881.5" y1="877.8" x2="875.7" y2="867.9"/></g><circle cx="891.7" cy="895.6" r="20.5" fill="#231f20" stroke="#f0f0f0" stroke-width="1.4"/><circle cx="891.7" cy="895.6" r="12.4" fill="#231f20" stroke="#e6e6e6" stroke-width="1"/><g stroke="#eee" stroke-width="1"><line x1="891.7" y1="883.2" x2="891.7" y2="908.0"/><line x1="879.3000000000001" y1="895.6" x2="904.1" y2="895.6"/></g><g fill="none" stroke="#aaa" stroke-width="1.4"><path d="M887.5,889 q3,2 0,4.5 M896,889 q-3,2 0,4.5 M887.5,898 q3,2 0,4.5 M896,898 q-3,2 0,4.5"/></g><path d="M856,922.6 Q892,914 927,922.6 L923,934 Q892,926 860.5,934 Z" fill="#231f20" stroke="#f0f0f0" stroke-width="1.2"/><g fill="none" stroke="#cfcfcf" stroke-width="0.9"><path d="M891.7,930 V943.5 M878.5,932.5 L891.7,943.5 L905,932.5"/></g></g>
<g id="logo3"><g stroke="#ededed" stroke-width="1.25"><line x1="1229.5" y1="899.8" x2="1254.0" y2="900.3"/><line x1="1229.3" y1="902.5" x2="1253.5" y2="905.9"/><line x1="1228.8" y1="905.1" x2="1252.4" y2="911.4"/><line x1="1227.9" y1="907.6" x2="1250.6" y2="916.8"/><line x1="1226.8" y1="910.0" x2="1248.2" y2="921.8"/><line x1="1225.4" y1="912.3" x2="1245.2" y2="926.6"/><line x1="1223.7" y1="914.3" x2="1241.7" y2="930.9"/><line x1="1221.8" y1="916.2" x2="1237.6" y2="934.8"/><line x1="1219.6" y1="917.8" x2="1233.1" y2="938.2"/><line x1="1217.3" y1="919.1" x2="1228.3" y2="941.0"/><line x1="1214.9" y1="920.1" x2="1223.1" y2="943.2"/><line x1="1212.3" y1="920.9" x2="1217.7" y2="944.8"/><line x1="1209.7" y1="921.3" x2="1212.2" y2="945.7"/><line x1="1207.1" y1="921.4" x2="1206.6" y2="945.9"/><line x1="1204.4" y1="921.2" x2="1201.0" y2="945.4"/><line x1="1201.8" y1="920.7" x2="1195.5" y2="944.3"/><line x1="1199.3" y1="919.8" x2="1190.1" y2="942.5"/><line x1="1196.9" y1="918.7" x2="1185.1" y2="940.1"/><line x1="1194.6" y1="917.3" x2="1180.3" y2="937.1"/><line x1="1192.6" y1="915.6" x2="1176.0" y2="933.6"/><line x1="1190.7" y1="913.7" x2="1172.1" y2="929.5"/><line x1="1189.1" y1="911.5" x2="1168.7" y2="925.0"/><line x1="1187.8" y1="909.2" x2="1165.9" y2="920.2"/><line x1="1186.8" y1="906.8" x2="1163.7" y2="915.0"/><line x1="1186.0" y1="904.2" x2="1162.1" y2="909.6"/><line x1="1185.6" y1="901.6" x2="1161.2" y2="904.1"/><line x1="1185.5" y1="899.0" x2="1161.0" y2="898.5"/><line x1="1185.7" y1="896.3" x2="1161.5" y2="892.9"/><line x1="1186.2" y1="893.7" x2="1162.6" y2="887.4"/><line x1="1187.1" y1="891.2" x2="1164.4" y2="882.0"/><line x1="1188.2" y1="888.8" x2="1166.8" y2="877.0"/><line x1="1189.6" y1="886.5" x2="1169.8" y2="872.2"/><line x1="1191.3" y1="884.5" x2="1173.3" y2="867.9"/><line x1="1193.2" y1="882.6" x2="1177.4" y2="864.0"/><line x1="1195.4" y1="881.0" x2="1181.9" y2="860.6"/><line x1="1197.7" y1="879.7" x2="1186.7" y2="857.8"/><line x1="1200.1" y1="878.7" x2="1191.9" y2="855.6"/><line x1="1202.7" y1="877.9" x2="1197.3" y2="854.0"/><line x1="1205.3" y1="877.5" x2="1202.8" y2="853.1"/><line x1="1207.9" y1="877.4" x2="1208.4" y2="852.9"/><line x1="1210.6" y1="877.6" x2="1214.0" y2="853.4"/><line x1="1213.2" y1="878.1" x2="1219.5" y2="854.5"/><line x1="1215.7" y1="879.0" x2="1224.9" y2="856.3"/><line x1="1218.1" y1="880.1" x2="1229.9" y2="858.7"/><line x1="1220.4" y1="881.5" x2="1234.7" y2="861.7"/><line x1="1222.4" y1="883.2" x2="1239.0" y2="865.2"/><line x1="1224.3" y1="885.1" x2="1242.9" y2="869.3"/><line x1="1225.9" y1="887.3" x2="1246.3" y2="873.8"/><line x1="1227.2" y1="889.6" x2="1249.1" y2="878.6"/><line x1="1228.2" y1="892.0" x2="1251.3" y2="883.8"/><line x1="1229.0" y1="894.6" x2="1252.9" y2="889.2"/><line x1="1229.4" y1="897.2" x2="1253.8" y2="894.7"/></g><circle cx="1207.5" cy="899.4" r="37" fill="none" stroke="#ddd" stroke-width="0.9"/><circle cx="1207.5" cy="899.4" r="41.5" fill="none" stroke="#ddd" stroke-width="0.9"/><g fill="none" stroke="#f0f0f0" stroke-width="1.5"><path d="M1180,910 Q1188,909 1189,915 Q1189,921 1186,925 M1235,910 Q1227,909 1226,915 Q1226,921 1229,925"/><path d="M1190,884 Q1186,878 1189,873 M1225,884 Q1229,878 1226,873"/></g><path d="M1201,848 L1207.5,840.2 L1214,848 V944 Q1212.5,948 1212.5,951 Q1212,956.3 1207.5,956.3 Q1203,956.3 1202.5,951 Q1202.5,948 1201,944 Z" fill="#231f20" stroke="#ececec" stroke-width="1.1"/><path d="M1153,900.4 Q1153,896 1156.5,895.5 Q1158,892.5 1161.5,893 Q1163,891.8 1166,891.8 H1249 Q1252,891.8 1253.5,893 Q1257,892.5 1258.5,895.5 Q1262,896 1262,900.4 Q1262,905 1258.5,905.5 Q1257,908.5 1253.5,908 Q1252,909.2 1249,909.2 H1166 Q1163,909.2 1161.5,908 Q1158,908.5 1156.5,905.5 Q1153,905 1153,900.4 Z" fill="#231f20" stroke="#ececec" stroke-width="1.1"/><g stroke="#cfcfcf" stroke-width="0.8"><line x1="1207.5" y1="846" x2="1207.5" y2="950"/><line x1="1158" y1="900.4" x2="1257" y2="900.4"/></g><g fill="none" stroke="#bbb" stroke-width="0.8"><path d="M1170,892 V909 M1245,892 V909"/></g><path d="M1185.8,880 Q1207.5,874.5 1229,880 Q1229.5,906 1207.5,920 Q1185.5,906 1185.8,880 Z" fill="#231f20" stroke="#f0f0f0" stroke-width="1.3"/><path d="M1188.6,882.3 Q1207.5,877.5 1226.2,882.3 Q1226.2,904 1207.5,916.8 Q1188.6,904 1188.6,882.3 Z" fill="none" stroke="#c8c8c8" stroke-width="0.8"/><g fill="none" stroke="#ececec" stroke-width="1.2"><path d="M1199.5,884 Q1193,884 1193,889 V906 Q1198,906 1198.5,901 Q1198.5,896 1193,896"/><path d="M1203.5,883 V913 M1211.5,883 V913 M1203.5,897.5 H1211.5"/><path d="M1215.5,884 Q1222,884 1222,889 V906 Q1217,906 1216.5,901 Q1216.5,896 1222,896"/></g><line x1="1148.2" y1="929.6" x2="1152" y2="929.6" stroke="#ccc" stroke-width="1"/></g>
<g id="logo4"><path d="M1478.7,843.3 Q1527,831.5 1574.6,842.6 L1575.2,905 Q1572,938 1527.2,958.6 Q1482,938 1479.8,905 Z" fill="#000" stroke="#f0f0f0" stroke-width="1.4"/><ellipse cx="1515.6" cy="866.7" rx="19.4" ry="3.6" transform="rotate(-101.2 1515.6 866.7)" fill="#231f20" stroke="#b0b0b0" stroke-width="0.75"/><ellipse cx="1511.8" cy="868.4" rx="19.0" ry="3.6" transform="rotate(-111.8 1511.8 868.4)" fill="#231f20" stroke="#b0b0b0" stroke-width="0.75"/><ellipse cx="1508.5" cy="871.4" rx="18.0" ry="3.6" transform="rotate(-123.3 1508.5 871.4)" fill="#231f20" stroke="#b0b0b0" stroke-width="0.75"/><ellipse cx="1506.0" cy="875.2" rx="16.8" ry="3.6" transform="rotate(-135.6 1506.0 875.2)" fill="#231f20" stroke="#b0b0b0" stroke-width="0.75"/><ellipse cx="1504.6" cy="879.6" rx="15.4" ry="3.6" transform="rotate(-148.7 1504.6 879.6)" fill="#231f20" stroke="#b0b0b0" stroke-width="0.75"/><ellipse cx="1504.6" cy="884.3" rx="13.8" ry="3.6" transform="rotate(-163.1 1504.6 884.3)" fill="#231f20" stroke="#b0b0b0" stroke-width="0.75"/><ellipse cx="1506.0" cy="888.7" rx="12.0" ry="3.6" transform="rotate(-178.9 1506.0 888.7)" fill="#231f20" stroke="#b0b0b0" stroke-width="0.75"/><ellipse cx="1508.7" cy="892.3" rx="10.0" ry="3.2" transform="rotate(163.7 1508.7 892.3)" fill="#231f20" stroke="#b0b0b0" stroke-width="0.75"/><ellipse cx="1512.3" cy="894.8" rx="8.2" ry="3.2" transform="rotate(143.1 1512.3 894.8)" fill="#231f20" stroke="#b0b0b0" stroke-width="0.75"/><ellipse cx="1538.8" cy="866.7" rx="19.4" ry="3.6" transform="rotate(281.2 1538.8 866.7)" fill="#231f20" stroke="#b0b0b0" stroke-width="0.75"/><ellipse cx="1542.7" cy="868.4" rx="19.0" ry="3.6" transform="rotate(291.8 1542.7 868.4)" fill="#231f20" stroke="#b0b0b0" stroke-width="0.75"/><ellipse cx="1546.0" cy="871.4" rx="18.0" ry="3.6" transform="rotate(303.3 1546.0 871.4)" fill="#231f20" stroke="#b0b0b0" stroke-width="0.75"/><ellipse cx="1548.4" cy="875.2" rx="16.8" ry="3.6" transform="rotate(315.6 1548.4 875.2)" fill="#231f20" stroke="#b0b0b0" stroke-width="0.75"/><ellipse cx="1549.8" cy="879.6" rx="15.4" ry="3.6" transform="rotate(328.7 1549.8 879.6)" fill="#231f20" stroke="#b0b0b0" stroke-width="0.75"/><ellipse cx="1549.8" cy="884.3" rx="13.8" ry="3.6" transform="rotate(343.1 1549.8 884.3)" fill="#231f20" stroke="#b0b0b0" stroke-width="0.75"/><ellipse cx="1548.4" cy="888.7" rx="12.0" ry="3.6" transform="rotate(358.9 1548.4 888.7)" fill="#231f20" stroke="#b0b0b0" stroke-width="0.75"/><ellipse cx="1545.7" cy="892.3" rx="10.0" ry="3.2" transform="rotate(16.3 1545.7 892.3)" fill="#231f20" stroke="#b0b0b0" stroke-width="0.75"/><ellipse cx="1542.1" cy="894.8" rx="8.2" ry="3.2" transform="rotate(36.9 1542.1 894.8)" fill="#231f20" stroke="#b0b0b0" stroke-width="0.75"/><path d="M1518.2,880.0 L1512.6,851.5 M1536.2,880.0 L1541.8,851.5 M1516.7,880.7 L1506.1,854.3 M1537.7,880.7 L1548.3,854.3 M1515.4,881.9 L1500.6,859.4 M1539.0,881.9 L1553.8,859.4 M1514.4,883.5 L1496.4,865.9 M1540.0,883.5 L1558.0,865.9 M1513.8,885.2 L1494.1,873.3 M1540.6,885.2 L1560.3,873.3 M1513.8,887.1 L1494.1,881.1 M1540.6,887.1 L1560.3,881.1 M1514.4,888.9 L1496.4,888.5 M1540.0,888.9 L1558.0,888.5 M1515.5,890.3 L1501.0,894.6 M1538.9,890.3 L1553.4,894.6 M1516.9,891.3 L1507.0,898.7 M1537.5,891.3 L1547.4,898.7" fill="none" stroke="#8c8c8c" stroke-width="0.6"/><path d="M1521,880 Q1527,875 1533.4,880 L1537,893 Q1543,905 1539,916 L1515.4,916 Q1511.4,905 1517.4,893 Z" fill="#231f20" stroke="#b5b5b5" stroke-width="0.8"/><path d="M1519.5,880 Q1522.5,876.5 1527.2,879 Q1532,876.5 1535,880" fill="none" stroke="#cfcfcf" stroke-width="1.3"/><g fill="none" stroke="#9a9a9a" stroke-width="0.7"><path d="M1521,886 L1527.2,892 L1533.4,886 M1519,897 L1527.2,905 L1535.4,897 M1520,908 L1527.2,913 L1534.4,908 M1527.2,881 V915 M1517,903 L1537.4,903"/></g><ellipse cx="1493.5" cy="905.3" rx="3.6" ry="1.7" transform="rotate(3.8 1493.5 905.3)" fill="#231f20" stroke="#b0b0b0" stroke-width="0.7"/><ellipse cx="1496.8" cy="901.3" rx="3.6" ry="1.7" transform="rotate(73.8 1496.8 901.3)" fill="#231f20" stroke="#b0b0b0" stroke-width="0.7"/><ellipse cx="1497.6" cy="908.7" rx="3.6" ry="1.7" transform="rotate(3.8 1497.6 908.7)" fill="#231f20" stroke="#b0b0b0" stroke-width="0.7"/><ellipse cx="1500.9" cy="904.6" rx="3.6" ry="1.7" transform="rotate(73.8 1500.9 904.6)" fill="#231f20" stroke="#b0b0b0" stroke-width="0.7"/><ellipse cx="1501.7" cy="912.0" rx="3.6" ry="1.7" transform="rotate(3.8 1501.7 912.0)" fill="#231f20" stroke="#b0b0b0" stroke-width="0.7"/><ellipse cx="1505.0" cy="907.9" rx="3.6" ry="1.7" transform="rotate(73.8 1505.0 907.9)" fill="#231f20" stroke="#b0b0b0" stroke-width="0.7"/><ellipse cx="1505.9" cy="915.3" rx="3.6" ry="1.7" transform="rotate(3.8 1505.9 915.3)" fill="#231f20" stroke="#b0b0b0" stroke-width="0.7"/><ellipse cx="1509.1" cy="911.2" rx="3.6" ry="1.7" transform="rotate(73.8 1509.1 911.2)" fill="#231f20" stroke="#b0b0b0" stroke-width="0.7"/><ellipse cx="1510.0" cy="918.6" rx="3.6" ry="1.7" transform="rotate(3.8 1510.0 918.6)" fill="#231f20" stroke="#b0b0b0" stroke-width="0.7"/><ellipse cx="1513.2" cy="914.5" rx="3.6" ry="1.7" transform="rotate(73.8 1513.2 914.5)" fill="#231f20" stroke="#b0b0b0" stroke-width="0.7"/><ellipse cx="1514.1" cy="921.9" rx="3.6" ry="1.7" transform="rotate(3.8 1514.1 921.9)" fill="#231f20" stroke="#b0b0b0" stroke-width="0.7"/><ellipse cx="1517.3" cy="917.8" rx="3.6" ry="1.7" transform="rotate(73.8 1517.3 917.8)" fill="#231f20" stroke="#b0b0b0" stroke-width="0.7"/><ellipse cx="1560.9" cy="905.3" rx="3.6" ry="1.7" transform="rotate(176.2 1560.9 905.3)" fill="#231f20" stroke="#b0b0b0" stroke-width="0.7"/><ellipse cx="1557.6" cy="901.3" rx="3.6" ry="1.7" transform="rotate(106.2 1557.6 901.3)" fill="#231f20" stroke="#b0b0b0" stroke-width="0.7"/><ellipse cx="1556.8" cy="908.7" rx="3.6" ry="1.7" transform="rotate(176.2 1556.8 908.7)" fill="#231f20" stroke="#b0b0b0" stroke-width="0.7"/><ellipse cx="1553.5" cy="904.6" rx="3.6" ry="1.7" transform="rotate(106.2 1553.5 904.6)" fill="#231f20" stroke="#b0b0b0" stroke-width="0.7"/><ellipse cx="1552.7" cy="912.0" rx="3.6" ry="1.7" transform="rotate(176.2 1552.7 912.0)" fill="#231f20" stroke="#b0b0b0" stroke-width="0.7"/><ellipse cx="1549.4" cy="907.9" rx="3.6" ry="1.7" transform="rotate(106.2 1549.4 907.9)" fill="#231f20" stroke="#b0b0b0" stroke-width="0.7"/><ellipse cx="1548.5" cy="915.3" rx="3.6" ry="1.7" transform="rotate(176.2 1548.5 915.3)" fill="#231f20" stroke="#b0b0b0" stroke-width="0.7"/><ellipse cx="1545.3" cy="911.2" rx="3.6" ry="1.7" transform="rotate(106.2 1545.3 911.2)" fill="#231f20" stroke="#b0b0b0" stroke-width="0.7"/><ellipse cx="1544.4" cy="918.6" rx="3.6" ry="1.7" transform="rotate(176.2 1544.4 918.6)" fill="#231f20" stroke="#b0b0b0" stroke-width="0.7"/><ellipse cx="1541.2" cy="914.5" rx="3.6" ry="1.7" transform="rotate(106.2 1541.2 914.5)" fill="#231f20" stroke="#b0b0b0" stroke-width="0.7"/><ellipse cx="1540.3" cy="921.9" rx="3.6" ry="1.7" transform="rotate(176.2 1540.3 921.9)" fill="#231f20" stroke="#b0b0b0" stroke-width="0.7"/><ellipse cx="1537.1" cy="917.8" rx="3.6" ry="1.7" transform="rotate(106.2 1537.1 917.8)" fill="#231f20" stroke="#b0b0b0" stroke-width="0.7"/><path d="M1493.5,902 L1519,922.5 M1560.9,902 L1535.4,922.5" fill="none" stroke="#9a9a9a" stroke-width="0.7"/><path d="M1518.5,917 H1536 L1536.5,928.5 H1518 Z" fill="#231f20" stroke="#e0e0e0" stroke-width="1"/><g stroke="#e0e0e0" stroke-width="0.9"><line x1="1522.5" y1="918" x2="1522.5" y2="928"/><line x1="1527.2" y1="918" x2="1527.2" y2="928"/><line x1="1531.9" y1="918" x2="1531.9" y2="928"/></g><g fill="#231f20" stroke="#b5b5b5" stroke-width="0.8"><path d="M1494.6,930.5 Q1505,928 1518,926.5 L1518,930 Q1505,931.5 1495,933.5 Z"/><path d="M1559.8,930.5 Q1549.4,928 1536.4,926.5 L1536.4,930 Q1549.4,931.5 1559.4,933.5 Z"/></g><g stroke="#cfcfcf" stroke-width="1.3"><line x1="1507" y1="925.5" x2="1508.5" y2="933.5"/><line x1="1547.4" y1="925.5" x2="1545.9" y2="933.5"/></g><text x="1527.2" y="864.5" text-anchor="middle" style="font-size:8px;fill:#000;stroke:#bdbdbd;stroke-width:0.5">БЕА</text></g>
</svg>
</body></html>
